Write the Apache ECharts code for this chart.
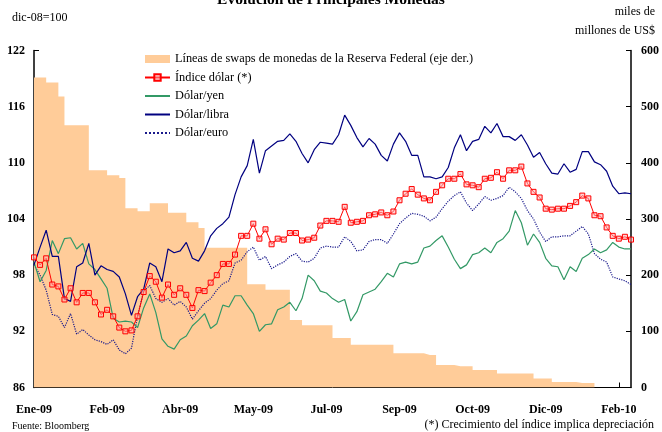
<!DOCTYPE html>
<html>
<head>
<meta charset="utf-8">
<script src="https://cdn.jsdelivr.net/npm/echarts@6/dist/echarts.min.js"></script>
<style>
html, body { margin: 0; padding: 0; background: #fff; }
#chart { width: 662px; height: 432px; }
</style>
</head>
<body>
<div id="chart"></div>
<script>
// etiquetas del eje x (una cada 12 observaciones)
var tickLabels = ['Ene-09', 'Feb-09', 'Abr-09', 'May-09', 'Jul-09', 'Sep-09', 'Oct-09', 'Dic-09', 'Feb-10'];

// lineas de swaps de la Fed, miles de millones US$ (eje der.)
var swaps = [552, 552, 543, 543, 518, 467, 467, 467, 467, 387, 387, 387, 378, 378, 373, 319, 319, 314, 314, 328,
	328, 328, 311, 311, 311, 294, 294, 284, 249, 249, 249, 249, 249, 249, 249, 184, 184, 184, 174, 174,
	174, 174, 120, 120, 111, 111, 111, 111, 111, 88, 88, 88, 76, 76, 76, 76, 76, 76, 76, 61,
	61, 61, 61, 61, 58, 58, 40, 40, 40, 38, 38, 38, 31, 31, 31, 31, 25, 25, 25, 25,
	25, 25, 16, 16, 16, 10, 10, 10, 10, 8, 8, 8, 0, 0, 0, 0, 0, 0, 0];

// indice dolar (dic-08=100)
var indiceDolar = [99.9, 99.1, 99.8, 97, 96.8, 95.4, 96.6, 95.1, 96.1, 96.1, 95.1, 93.8, 94.3, 93.6, 92.4, 92, 92.1, 93.6, 96.2, 97.9,
	97.3, 95.6, 97, 95.9, 96.6, 95.9, 94.5, 96.4, 96.3, 97.2, 98, 99.2, 99.2, 100.2, 102.2, 102.2, 103.5, 101.9, 102.9, 101.3,
	101.9, 101.8, 102.5, 102.5, 101.7, 101.8, 102, 103.3, 103.8, 103.8, 103.7, 105.3, 103.6, 103.7, 103.8, 104.4, 104.5, 104.7, 104.4, 104.8,
	106, 106.7, 107.2, 106.6, 106.2, 106, 106.9, 107.6, 108.3, 108.3, 108.8, 107.7, 107.6, 107.4, 108.3, 108.4, 109, 108.3, 109.2, 109.2,
	109.6, 107.8, 106.9, 106.3, 105.1, 105, 105.1, 105.1, 105.4, 105.8, 106.5, 106.2, 104.4, 104.3, 103.1, 102.2, 101.9, 102.1, 101.8];

// dolar/yen
var dolarYen = [99.4, 97.3, 98.5, 101.7, 100.3, 101.9, 102, 100.8, 101.4, 99.2, 98.6, 97.6, 96.6, 93.4, 93, 93.1, 93, 92.4, 94.5, 96,
	94, 91.2, 90.4, 90.1, 91.1, 91.5, 92.6, 93.2, 93.9, 92.3, 92.8, 94.8, 94.6, 95.8, 95.8, 94.8, 93.9, 92, 92.7, 92.8,
	94.3, 94.6, 95.1, 94.2, 95.5, 98, 97.4, 96.3, 96.1, 95.5, 95.1, 95.4, 93.1, 94.1, 95.9, 96.2, 96.5, 97.3, 98.2, 97.8,
	99.2, 99.4, 99.2, 99.4, 100.9, 101.1, 101.7, 102.2, 101, 99.7, 98.7, 99.1, 100.2, 100.4, 100.9, 100.4, 101.5, 101.9, 102.7, 104.9,
	103.6, 101.2, 102.4, 101.5, 99.8, 99, 98.9, 97.5, 98.9, 98.4, 99.8, 100.2, 100.8, 100.4, 100.7, 101.5, 101, 100.8, 100.8];

// dolar/libra
var dolarLibra = [99.1, 101, 102.8, 100, 100, 95.5, 95.2, 98.9, 99.3, 101.4, 98, 99, 98.6, 98.4, 97.8, 96, 93.7, 95.7, 96.5, 99.3,
	98.9, 97.3, 100.8, 100.4, 100.6, 101.5, 99.8, 99.5, 100.6, 102.2, 103, 103.5, 104.2, 106.6, 108.5, 109.7, 112.5, 108.9, 111.3, 111.8,
	112.3, 112.4, 113.1, 112.3, 111, 110, 111.4, 112.2, 112.1, 112, 113, 115.1, 114, 112.7, 111.7, 112.6, 112, 110.8, 110.2, 112,
	113.2, 112.3, 110.8, 110.8, 108.5, 108.5, 108.3, 108.5, 109.5, 111.6, 113, 111.3, 112.3, 112.5, 113.9, 113.2, 114.2, 112.8, 112.8, 112.4,
	113, 111.9, 110.6, 111.1, 109.9, 108.9, 108.8, 109.9, 109, 109.3, 111.2, 111.2, 110.1, 109.8, 109.1, 107.5, 106.7, 106.8, 106.7];

// dolar/euro
var dolarEuro = [99.1, 98, 96.4, 93.8, 93.6, 92.4, 93.9, 91.7, 92.2, 91.6, 91.1, 90.9, 90.6, 91.1, 90, 89.6, 90.2, 93.6, 96.3, 96.9,
	95.5, 95.1, 95.5, 94.8, 95.2, 94.6, 93.3, 94.2, 95, 95.5, 96.4, 97.1, 97.4, 99.3, 99.6, 100.5, 101, 99.6, 100, 98.7,
	99.1, 99.4, 100, 100.3, 99.5, 99.4, 99.8, 100.9, 101.1, 101, 101, 102.1, 101.6, 100.6, 100.7, 101.6, 101.8, 101.8, 101.4, 102.4,
	103.5, 104.1, 104.6, 104.5, 104.3, 103.8, 104.2, 105.1, 105.9, 106.5, 106.9, 105.7, 104.9, 105.6, 106.4, 106, 106.2, 106.5, 107.4, 106.9,
	106.2, 104.9, 104, 102.6, 101.6, 102.1, 102.1, 102.2, 102.2, 102.7, 103.2, 102.4, 100.3, 99.7, 99.4, 97.8, 97.6, 97.4, 97];

var serif = '"Liberation Serif", "DejaVu Serif", serif';

var cats = [];
for (var i = 0; i < swaps.length; i++) {
	cats.push(String(i));
}

var myChart = echarts.init(document.getElementById('chart'));

var option = {
	animation: false,
	backgroundColor: '#fff',
	textStyle: { fontFamily: serif, color: '#000' },
	grid: { left: 34, right: 24, top: 50.5, bottom: 44.5, containLabel: false },
	graphic: [
		{ type: 'text', left: 'center', top: -8, style: { text: 'Evolución de Principales Monedas', font: 'bold 15.5px ' + serif, fill: '#000' } },
		{ type: 'text', left: 12, top: 12, style: { text: 'dic-08=100', font: '12px ' + serif, fill: '#000' } },
		{ type: 'text', right: 7, top: 6, style: { text: 'miles de', font: '12px ' + serif, fill: '#000' } },
		{ type: 'text', right: 7, top: 25, style: { text: 'millones de US$', font: '12px ' + serif, fill: '#000' } },
		{ type: 'text', left: 12, top: 421, style: { text: 'Fuente: Bloomberg', font: '10px ' + serif, fill: '#000' } },
		{ type: 'text', right: 8, top: 419, style: { text: '(*) Crecimiento del índice implica depreciación', font: '12px ' + serif, fill: '#000' } }
	],
	legend: {
		orient: 'vertical',
		left: 144,
		top: 53,
		padding: 0,
		itemWidth: 25,
		itemHeight: 8,
		itemGap: 6.5,
		// sin circulo en las lineas sin marcador
		itemStyle: { opacity: 0 },
		textStyle: { fontFamily: serif, fontSize: 12.3, color: '#000' },
		data: [
			{ name: 'Líneas de swaps de monedas de la Reserva Federal (eje der.)', icon: 'rect', itemStyle: { opacity: 1 } },
			{ name: 'Índice dólar (*)', itemStyle: { opacity: 1 } },
			'Dólar/yen',
			'Dólar/libra',
			'Dólar/euro'
		]
	},
	xAxis: {
		type: 'category',
		data: cats,
		boundaryGap: false,
		axisLine: { lineStyle: { color: '#000', width: 1 } },
		axisTick: { inside: true, length: 5, interval: 11, lineStyle: { color: '#000' } },
		axisLabel: {
			interval: 11,
			margin: 16,
			fontFamily: serif,
			fontWeight: 'bold',
			fontSize: 12,
			color: '#000',
			formatter: function(val, idx) {
				return tickLabels[Math.round(idx / 12)];
			}
		},
		splitLine: { show: false }
	},
	yAxis: [{
		type: 'value',
		position: 'left',
		min: 86,
		max: 122,
		interval: 6,
		axisLine: { show: true, lineStyle: { color: '#000', width: 1.5 } },
		axisTick: { show: true, inside: true, length: 5, lineStyle: { color: '#000' } },
		axisLabel: { margin: 9, fontFamily: serif, fontWeight: 'bold', fontSize: 12, color: '#000' },
		splitLine: { show: false }
	}, {
		type: 'value',
		position: 'right',
		min: 0,
		max: 600,
		interval: 100,
		axisLine: { show: true, lineStyle: { color: '#000', width: 1.5 } },
		axisTick: { show: true, inside: true, length: 5, lineStyle: { color: '#000' } },
		axisLabel: { margin: 10, fontFamily: serif, fontWeight: 'bold', fontSize: 12, color: '#000' },
		splitLine: { show: false }
	}],
	series: [{
		name: 'Líneas de swaps de monedas de la Reserva Federal (eje der.)',
		type: 'line',
		yAxisIndex: 1,
		data: swaps,
		step: 'end',
		symbol: 'none',
		lineStyle: { width: 0, color: '#FFCC99' },
		itemStyle: { color: '#FFCC99' },
		areaStyle: { color: '#FFCC99', opacity: 1 },
		z: 1
	}, {
		name: 'Dólar/euro',
		type: 'line',
		data: dolarEuro,
		symbol: 'none',
		lineStyle: { width: 1.2, color: '#1a1a8c', type: 'dotted' },
		itemStyle: { color: '#1a1a8c' },
		z: 2
	}, {
		name: 'Dólar/yen',
		type: 'line',
		data: dolarYen,
		symbol: 'none',
		lineStyle: { width: 1.2, color: '#339966' },
		itemStyle: { color: '#339966' },
		z: 3
	}, {
		name: 'Dólar/libra',
		type: 'line',
		data: dolarLibra,
		symbol: 'none',
		lineStyle: { width: 1.2, color: '#000080' },
		itemStyle: { color: '#000080' },
		z: 4
	}, {
		name: 'Índice dólar (*)',
		type: 'line',
		data: indiceDolar,
		symbol: 'rect',
		symbolSize: 5,
		showAllSymbol: true,
		lineStyle: { width: 1, color: '#ff0000' },
		itemStyle: { color: 'rgba(255,170,170,0.5)', borderColor: '#ff0000', borderWidth: 1 },
		z: 5
	}]
};

myChart.setOption(option);
</script>
</body>
</html>
